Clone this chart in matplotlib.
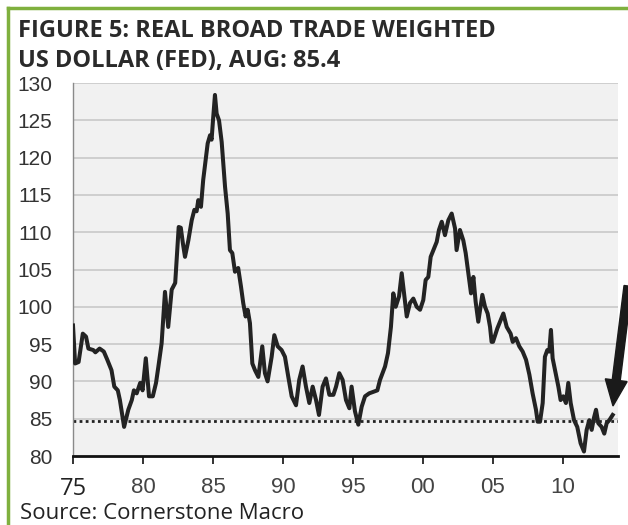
import matplotlib.pyplot as plt
from matplotlib.patches import FancyArrow
from matplotlib.transforms import IdentityTransform

# 読み取った系列（年, 指数）
years = [1975.0, 1975.15, 1975.4, 1975.7, 1975.93, 1976.1, 1976.45, 1976.6, 1976.9, 1977.2,
         1977.45, 1977.75, 1977.95, 1978.2, 1978.35, 1978.65, 1978.95, 1979.2, 1979.35, 1979.55,
         1979.8, 1979.97, 1980.2, 1980.43, 1980.7, 1980.93, 1981.1, 1981.33, 1981.57, 1981.8,
         1982.05, 1982.3, 1982.55, 1982.7, 1982.85, 1983.0, 1983.24, 1983.48, 1983.67, 1983.83,
         1983.95, 1984.14, 1984.3, 1984.48, 1984.62, 1984.79, 1984.9, 1985.0, 1985.14, 1985.26,
         1985.43, 1985.62, 1985.86, 1986.05, 1986.21, 1986.38, 1986.57, 1986.8, 1987.0, 1987.16,
         1987.33, 1987.48, 1987.64, 1987.81, 1988.0, 1988.24, 1988.52, 1988.71, 1988.9, 1989.19,
         1989.38, 1989.62, 1989.9, 1990.14, 1990.38, 1990.62, 1990.93, 1991.16, 1991.4, 1991.64,
         1991.88, 1992.12, 1992.36, 1992.57, 1992.83, 1993.07, 1993.31, 1993.6, 1993.79, 1994.02,
         1994.26, 1994.5, 1994.74, 1994.9, 1995.14, 1995.38, 1995.62, 1995.86, 1996.16, 1996.45,
         1996.74, 1996.93, 1997.29, 1997.5, 1997.71, 1997.88, 1998.05, 1998.29, 1998.48, 1998.67,
         1998.84, 1999.07, 1999.31, 1999.55, 1999.79, 2000.02, 2000.19, 2000.38, 2000.55, 2000.74,
         2000.98, 2001.14, 2001.34, 2001.57, 2001.81, 2002.05, 2002.29, 2002.4, 2002.64, 2002.88,
         2003.05, 2003.24, 2003.43, 2003.6, 2003.76, 2003.95, 2004.24, 2004.43, 2004.62, 2004.79,
         2004.9, 2005.0, 2005.31, 2005.55, 2005.74, 2005.98, 2006.26, 2006.41, 2006.64, 2006.88,
         2007.12, 2007.36, 2007.6, 2007.83, 2008.07, 2008.19, 2008.36, 2008.55, 2008.71, 2008.88,
         2009.02, 2009.14, 2009.26, 2009.43, 2009.67, 2009.83, 2010.02, 2010.21, 2010.38, 2010.55,
         2010.79, 2011.02, 2011.26, 2011.5, 2011.69, 2011.88, 2012.05, 2012.21, 2012.36, 2012.52,
         2012.76, 2012.95, 2013.12, 2013.31, 2013.55]
values = [97.5, 92.4, 92.6, 96.4, 96.0, 94.4, 94.2, 93.9, 94.4, 94.0,
          92.9, 91.5, 89.3, 88.8, 87.5, 83.9, 86.2, 87.5, 88.8, 88.4,
          89.8, 88.8, 93.1, 88.0, 88.0, 89.8, 92.0, 95.1, 102.0, 97.3,
          102.3, 103.2, 110.7, 110.6, 108.5, 106.7, 108.9, 111.6, 113.0, 112.8,
          114.3, 113.4, 117.0, 119.7, 121.9, 123.0, 122.4, 125.0, 128.4, 125.9,
          125.0, 122.1, 116.1, 112.5, 107.6, 107.2, 104.7, 105.2, 102.7, 100.5,
          98.7, 99.6, 97.8, 92.4, 91.5, 90.6, 94.7, 91.1, 90.0, 93.3,
          96.2, 94.7, 94.2, 93.3, 90.6, 88.0, 86.8, 90.2, 92.0, 89.3,
          87.1, 89.3, 87.5, 85.5, 89.3, 90.4, 88.2, 88.2, 89.3, 91.1,
          90.2, 87.5, 86.4, 89.3, 86.0, 84.2, 86.6, 88.0, 88.4, 88.6,
          88.8, 90.2, 92.0, 93.8, 97.3, 101.8, 100.0, 101.4, 104.5, 101.4,
          98.7, 100.5, 101.1, 100.0, 99.6, 100.9, 103.6, 104.0, 106.7, 107.6,
          108.7, 110.3, 111.4, 109.6, 111.6, 112.5, 110.5, 107.6, 110.3, 108.9,
          107.2, 104.5, 101.8, 104.0, 100.7, 98.0, 101.6, 100.0, 99.1, 97.3,
          95.3, 95.3, 97.1, 98.2, 99.1, 97.3, 96.4, 95.3, 95.8, 94.7,
          94.0, 92.9, 90.9, 88.4, 86.2, 84.6, 84.6, 87.1, 93.3, 94.2,
          94.0, 96.9, 93.1, 91.5, 89.3, 87.5, 88.0, 87.1, 89.8, 87.1,
          84.8, 83.9, 81.7, 80.6, 83.5, 84.8, 83.5, 85.1, 86.2, 84.4,
          83.9, 83.0, 84.4, 84.8, 85.5]
ref_level = 84.7
yticks = [80, 85, 90, 95, 100, 105, 110, 115, 120, 125, 130]
xticks = [1975, 1980, 1985, 1990, 1995, 2000, 2005, 2010]
xtick_labels = ['75', '80', '85', '90', '95', '00', '05', '10']

fig = plt.figure(figsize=(6.28, 5.25), dpi=100)
fig.patch.set_facecolor('white')

ax = fig.add_axes([73 / 628, 1 - 456 / 525, (618 - 73) / 628, (456 - 83) / 525])
ax.set_facecolor('#f1f1f1')
ax.set_xlim(1975, 2013.93)
ax.set_ylim(80, 130)

# グリッド
for y in yticks[1:]:
    ax.axhline(y, color='#cfcfcf', lw=1.4, zorder=1)

ax.axhline(ref_level, color='#222222', lw=2, ls=(0, (1, 1.2)), zorder=2)
ax.plot(years, values, color='#232323', lw=2.9, solid_joinstyle='round', zorder=3)

for s in ['top', 'right']:
    ax.spines[s].set_visible(False)
ax.spines['left'].set_color('#8a8a8a')
ax.spines['left'].set_linewidth(1)
ax.spines['bottom'].set_color('#111111')
ax.spines['bottom'].set_linewidth(2)

ax.set_yticks(yticks)
ax.set_yticklabels([str(v) for v in yticks], fontsize=15, color='#333333',
                   family=['Liberation Sans', 'DejaVu Sans'])
ax.tick_params(axis='y', length=0, pad=15)
ax.set_xticks(xticks)
ax.set_xticklabels(xtick_labels, fontsize=16, color='#444444',
                   family=['Liberation Sans', 'DejaVu Sans'])
ax.tick_params(axis='x', direction='out', length=6, width=1.3, color='#222222', pad=9)
lbl75 = ax.get_xticklabels()[0]
lbl75.set_family(['Open Sans', 'DejaVu Sans'])
lbl75.set_fontsize(17)
lbl75.set_color('#222222')

# タイトルと出典
fig.text(18 / 628, 1 - 37 / 525, 'FIGURE 5: REAL BROAD TRADE WEIGHTED',
         fontsize=17, fontweight='bold', color='#2a2a2a',
         family=['Open Sans', 'DejaVu Sans'])
fig.text(18 / 628, 1 - 67 / 525, 'US DOLLAR (FED), AUG: 85.4',
         fontsize=17, fontweight='bold', color='#2a2a2a',
         family=['Open Sans', 'DejaVu Sans'])
fig.text(20 / 628, 1 - 519 / 525, 'Source: Cornerstone Macro',
         fontsize=16, color='#222222', family=['Open Sans', 'DejaVu Sans'])

# 緑の枠
fig.add_artist(plt.Line2D([8 / 628, 8 / 628], [0, 1 - 8 / 525], color='#7fb03e', lw=2.5))
fig.add_artist(plt.Line2D([8 / 628, 1], [1 - 8 / 525, 1 - 8 / 525], color='#7fb03e', lw=2.5))

# 矢印（ピクセル座標）
arrow = FancyArrow(628, 525 - 286, -15, -120, width=8, head_width=22, head_length=26,
                   length_includes_head=True, color='#1a1a1a', transform=IdentityTransform())
fig.add_artist(arrow)

plt.savefig('out.png', dpi=100)
